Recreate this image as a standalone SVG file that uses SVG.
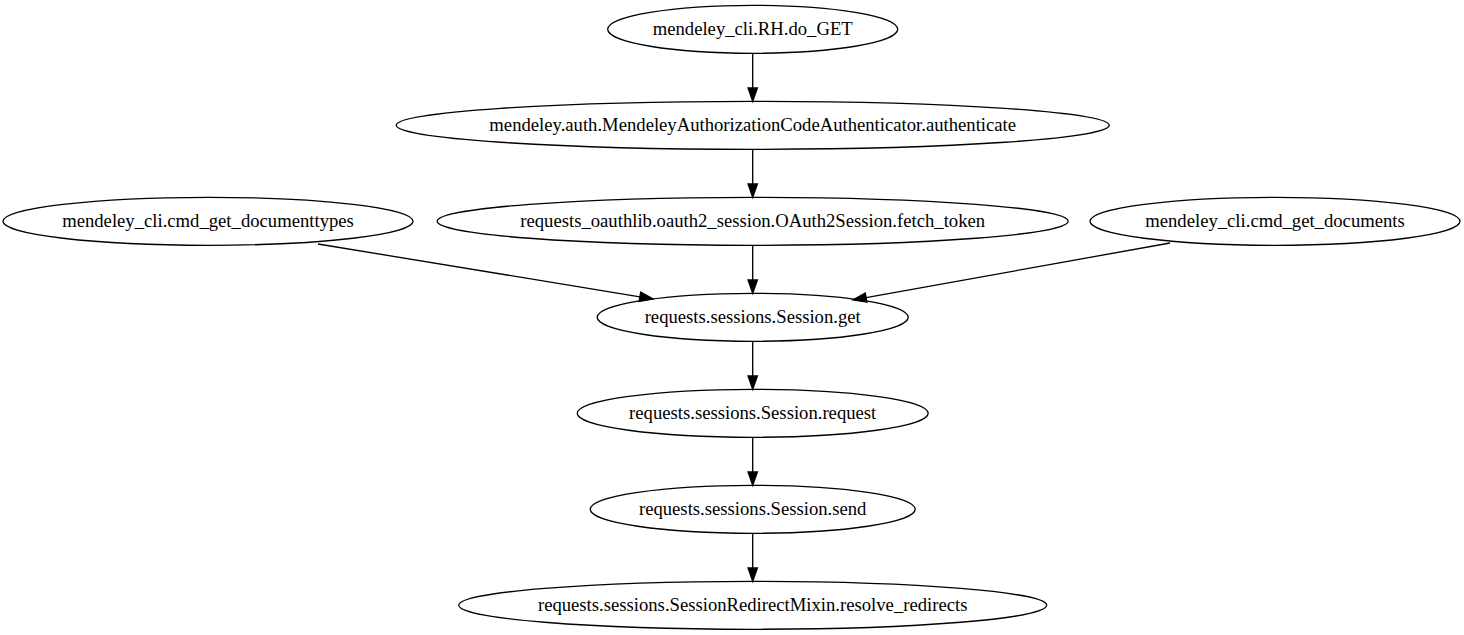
<svg xmlns="http://www.w3.org/2000/svg" width="1464" height="635" viewBox="0 0 1464 635">
<style>
.n ellipse{fill:none;stroke:#000;stroke-width:1.33}
.n text{font-family:"Liberation Serif","Times New Roman",Times,serif;font-size:18.67px;text-anchor:middle;fill:#000}
#edges path{fill:none;stroke:#000;stroke-width:1.33;marker-end:url(#ah)}
</style>
<defs>
<marker id="ah" markerUnits="userSpaceOnUse" markerWidth="14" markerHeight="10" refX="0" refY="4.67" orient="auto" overflow="visible">
<path d="M0,0 L13.33,4.67 L0,9.33 Z" fill="#000" stroke="#000" stroke-width="1.33"/>
</marker>
</defs>
<rect width="1464" height="635" fill="#fff"/>
<g id="edges">
<path d="M752.7,53.3 L752.7,88"/>
<path d="M752.7,149.3 L752.7,184"/>
<path d="M752.7,245.3 L752.7,280"/>
<path d="M318,244 L639.9,296.8"/>
<path d="M1170,243 L866.1,297.6"/>
<path d="M752.7,341.3 L752.7,376"/>
<path d="M752.7,437.3 L752.7,472"/>
<path d="M752.7,533.3 L752.7,568"/>
</g>
<g id="n_do_get" class="n"><ellipse cx="752.7" cy="29.3" rx="145" ry="24"/><text x="752.7" y="35">mendeley_cli.RH.do_GET</text></g>
<g id="n_authenticate" class="n"><ellipse cx="752.7" cy="125.3" rx="356.5" ry="24"/><text x="752.7" y="131">mendeley.auth.MendeleyAuthorizationCodeAuthenticator.authenticate</text></g>
<g id="n_documenttypes" class="n"><ellipse cx="208" cy="221.3" rx="205" ry="24"/><text x="208" y="227">mendeley_cli.cmd_get_documenttypes</text></g>
<g id="n_fetch_token" class="n"><ellipse cx="752.7" cy="221.3" rx="315.5" ry="24"/><text x="752.7" y="227">requests_oauthlib.oauth2_session.OAuth2Session.fetch_token</text></g>
<g id="n_documents" class="n"><ellipse cx="1275" cy="221.3" rx="185" ry="24"/><text x="1275" y="227">mendeley_cli.cmd_get_documents</text></g>
<g id="n_get" class="n"><ellipse cx="752.7" cy="317.3" rx="155.5" ry="24"/><text x="752.7" y="323">requests.sessions.Session.get</text></g>
<g id="n_request" class="n"><ellipse cx="752.7" cy="413.3" rx="175.5" ry="24"/><text x="752.7" y="419">requests.sessions.Session.request</text></g>
<g id="n_send" class="n"><ellipse cx="752.7" cy="509.3" rx="162.5" ry="24"/><text x="752.7" y="515">requests.sessions.Session.send</text></g>
<g id="n_resolve" class="n"><ellipse cx="752.7" cy="605.3" rx="294" ry="24"/><text x="752.7" y="611">requests.sessions.SessionRedirectMixin.resolve_redirects</text></g>
</svg>
